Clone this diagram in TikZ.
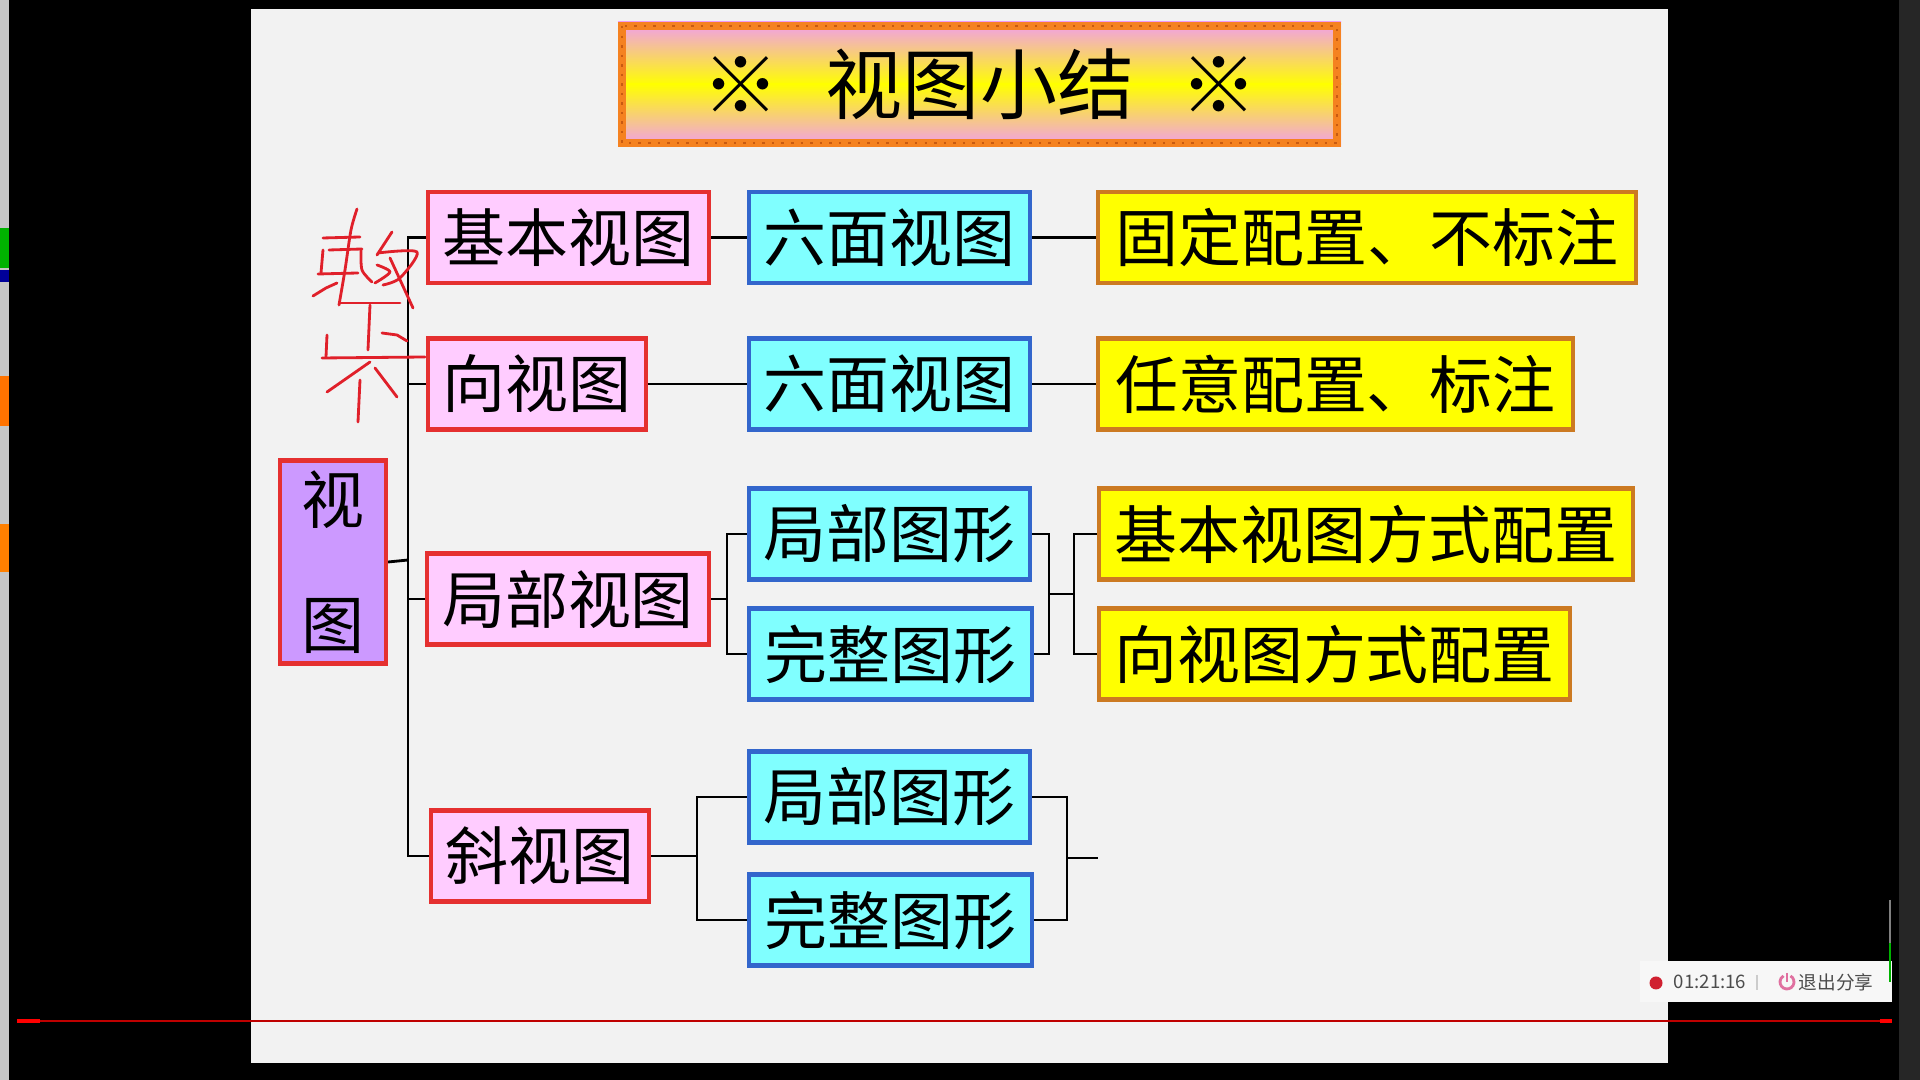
\documentclass[tikz,border=0pt]{standalone}
\usepackage{fontspec}
\setmainfont{Noto Sans CJK SC}
\definecolor{slidebg}{HTML}{F2F2F2}
\definecolor{boxred}{HTML}{E53030}
\definecolor{boxpink}{HTML}{FFCCFF}
\definecolor{boxviolet}{HTML}{CC99FF}
\definecolor{boxcyan}{HTML}{80FFFF}
\definecolor{boxblue}{HTML}{3366CC}
\definecolor{boxyellow}{HTML}{FFFF00}
\definecolor{boxbrown}{HTML}{CC7A22}
\definecolor{titleorange}{HTML}{F58220}
\definecolor{titledot}{HTML}{C85A10}
\definecolor{titlepink}{HTML}{F09CF0}
\definecolor{inkred}{HTML}{E0202A}
\definecolor{recred}{HTML}{D02030}
\definecolor{powerpink}{HTML}{E070A0}
\begin{document}
\begin{tikzpicture}[x=0.01cm, y=-0.01cm,
    boxtext/.style={font=\fontsize{17.9pt}{20pt}\selectfont, inner sep=0pt, line width=1.2pt, minimum height=0.91cm},
    pinkbox/.style={boxtext, draw=boxred, fill=boxpink},
    cyanbox/.style={boxtext, draw=boxblue, fill=boxcyan, minimum width=2.81cm},
    yellowbox/.style={boxtext, draw=boxbrown, fill=boxyellow},
    link/.style={line width=0.8pt},
    ink/.style={draw=inkred, line width=0.8pt, line cap=round, line join=round},
    small/.style={font=\fontsize{5.3pt}{6pt}\selectfont, text=black!70, inner sep=0pt}]
    \useasboundingbox (0,0) rectangle (1920,1080);
    % Screen
    \fill[black] (0,0) rectangle (1920,1080);
    \fill[gray!45] (0,0) rectangle (9,1080);
    \fill[green!70!black] (0,228) rectangle (9,268);
    \fill[blue!60!black] (0,270) rectangle (9,282);
    \fill[orange!90!red] (0,376) rectangle (9,426);
    \fill[orange] (0,524) rectangle (9,572);
    \fill[black!85] (1899,0) rectangle (1920,1080);
    \fill[slidebg] (251,9) rectangle (1668,1063);
    % Title
    \shade[top color=titlepink, bottom color=boxyellow] (618,22) rectangle (1341,85);
    \shade[top color=boxyellow, bottom color=titlepink] (618,84) rectangle (1341,147);
    \draw[titleorange, line width=0.08cm] (622,26) rectangle (1337,143);
    \draw[titledot, line width=0.025cm, dotted] (622,26) rectangle (1337,143);
    \node (title) at (980,84) [font=\fontsize{21.9pt}{24pt}\selectfont, inner sep=0pt] {※\hspace{0.6em}视图小结\hspace{0.6em}※};
    % Boxes
    \node (v) at (333,562) [boxtext, draw=boxred, fill=boxviolet, minimum width=1.06cm, minimum height=2.03cm, align=center, font=\fontsize{17.9pt}{35.4pt}\selectfont] {视\\图};
    \node (p1) at (568.5,237.5) [pinkbox, minimum width=2.81cm] {基本视图};
    \node (p2) at (537,384) [pinkbox, minimum width=2.18cm] {向视图};
    \node (p3) at (568,599) [pinkbox, minimum width=2.82cm] {局部视图};
    \node (p4) at (540,856) [pinkbox, minimum width=2.18cm] {斜视图};
    \node (c1) at (889.5,237.5) [cyanbox] {六面视图};
    \node (c2) at (889.5,384) [cyanbox] {六面视图};
    \node (c3) at (889.5,534) [cyanbox] {局部图形};
    \node (c4) at (890.5,654) [cyanbox, minimum width=2.83cm] {完整图形};
    \node (c5) at (889.5,797) [cyanbox] {局部图形};
    \node (c6) at (890.5,920) [cyanbox, minimum width=2.83cm] {完整图形};
    \node (y1) at (1367,237.5) [yellowbox, minimum width=5.38cm] {固定配置、不标注};
    \node (y2) at (1335.5,384) [yellowbox, minimum width=4.75cm] {任意配置、标注};
    \node (y3) at (1366,534) [yellowbox, minimum width=5.34cm] {基本视图方式配置};
    \node (y4) at (1334.5,654) [yellowbox, minimum width=4.71cm] {向视图方式配置};
    % Forks
    \coordinate (tr) at (408,560);
    \coordinate (f1) at (727,599);
    \coordinate (m1) at (1049,594);
    \coordinate (f2) at (1074,594);
    \coordinate (f3) at (697,856);
    \coordinate (m2) at (1067,858);
    \coordinate (e1) at (1098,858);
    % Connectors
    \draw[link] (v.east) -- (tr);
    \draw[link] (p1.west) -| (p4.west -| tr) -- (p4.west);
    \draw[link] (p2.west) -- (p2.west -| tr);
    \draw[link] (p3.west) -- (p3.west -| tr);
    \draw[link] (p1) -- (c1);
    \draw[link] (c1) -- (y1);
    \draw[link] (p2) -- (c2);
    \draw[link] (c2) -- (y2);
    \draw[link] (p3.east) -- (f1);
    \draw[link] (c3.west) -| (f1) |- (c4.west);
    \draw[link] (c3.east) -| (m1) |- (c4.east);
    \draw[link] (m1) -- (f2);
    \draw[link] (y3.west) -| (f2) |- (y4.west);
    \draw[link] (p4.east) -- (f3);
    \draw[link] (c5.west) -| (f3) |- (c6.west);
    \draw[link] (c5.east) -| (m2) |- (c6.east);
    \draw[link] (m2) -- (e1);
    % Handwriting
    \draw[ink] plot[smooth] coordinates {(357,209) (351,230) (345,270) (339,305)};
    \draw[ink] (323,238) -- (360,237);
    \draw[ink] (329,250) -- (362,249);
    \draw[ink] (323,250) -- (321,273);
    \draw[ink] (318,274) -- (358,273);
    \draw[ink] plot[smooth] coordinates {(361,250) (362,270) (372,282)};
    \draw[ink] (313,296) -- (326,288) -- (337,283);
    \draw[ink] (392,232) -- (377,255);
    \draw[ink] plot[smooth] coordinates {(378,253) (417,252) (400,278) (383,285)};
    \draw[ink] plot[smooth] coordinates {(377,265) (390,272) (375,283)};
    \draw[ink] (390,258) -- (413,308);
    \draw[ink] (340,303) -- (400,303);
    \draw[ink] (370,305) -- (368,350);
    \draw[ink] (382,333) -- (397,335) -- (407,341);
    \draw[ink] (322,358) -- (425,357);
    \draw[ink] (370,362) -- (327,392);
    \draw[ink] (375,368) -- (397,397);
    \draw[ink] (360,380) -- (358,422);
    \draw[ink] (327,335) -- (326,357);
    % Recording bar
    \draw[red!75!black, line width=0.3pt] (17,1021) -- (1892,1021);
    \draw[red, line width=1.2pt] (17,1021) -- (40,1021);
    \draw[red, line width=1.2pt] (1880,1021) -- (1892,1021);
    \fill[slidebg!60!white] (1640,961) rectangle (1892,1002);
    \draw[gray, line width=0.6pt] (1890,900) -- (1890,943);
    \draw[green!70!black, line width=0.6pt] (1890,943) -- (1890,982);
    \fill[recred] (1656,983) circle[radius=6.5];
    \node (clock) at (1710,982) [small] {01:21:16};
    \draw[black!20, line width=0.4pt] (1757,975) -- (1757,990);
    \draw[powerpink, line width=0.8pt] (1787,982) ++(-60:7) arc[start angle=-60, end angle=240, radius=7];
    \draw[powerpink, line width=0.8pt] (1787,973) -- (1787,982);
    \node (quit) at (1836,982) [small] {退出分享};
\end{tikzpicture}
\end{document}
